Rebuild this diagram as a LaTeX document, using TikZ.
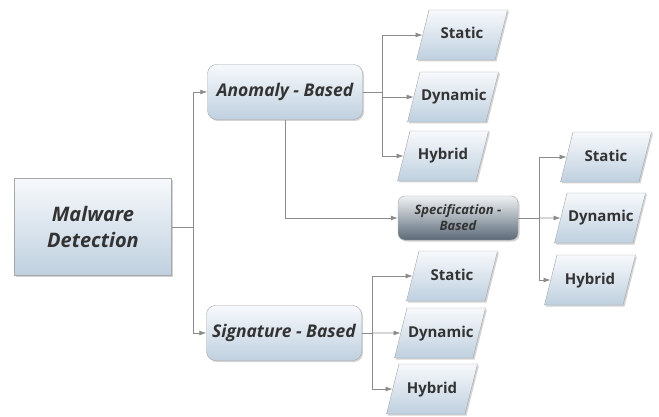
\documentclass[tikz,border=0pt]{standalone}
\usepackage{fontspec}
\setmainfont{Open Sans}
\usetikzlibrary{shapes.geometric,shadows,arrows.meta}
\definecolor{boxtop}{HTML}{F7F9FC}
\definecolor{boxbot}{HTML}{BFD0DF}
\definecolor{spectop}{HTML}{EEF1F3}
\definecolor{specbot}{HTML}{5B6977}
\definecolor{edgecol}{HTML}{A7A7A7}
\definecolor{ink}{HTML}{333333}
\definecolor{wirecol}{HTML}{8C8C8C}

\begin{document}
\begin{tikzpicture}[x=1pt,y=-1pt,
  base/.style={draw=edgecol, top color=boxtop, bottom color=boxbot, text=ink,
    drop shadow={opacity=.35, shadow xshift=1.5pt, shadow yshift=-1.5pt}},
  root/.style={base, minimum width=157pt, minimum height=97pt, align=center,
    font=\fontsize{20}{26}\selectfont\bfseries\itshape},
  branch/.style={base, rounded corners=9pt, minimum width=155pt, minimum height=55pt,
    font=\fontsize{17.5}{20}\selectfont\bfseries\itshape},
  spec/.style={base, top color=spectop, bottom color=specbot, rounded corners=7pt,
    minimum width=120pt, minimum height=44pt, align=center,
    font=\fontsize{13}{16}\selectfont\bfseries\itshape},
  leaf/.style={base, trapezium, trapezium left angle=76, trapezium right angle=104,
    text width=64pt, align=center, text height=11pt, text depth=3pt,
    inner xsep=1pt, inner ysep=18pt, font=\fontsize{15}{18}\selectfont\bfseries},
  wire/.style={draw=wirecol, line width=.8pt},
  feed/.style={wire, -{Latex[length=7pt,width=5pt]}}]
\useasboundingbox (0,0) rectangle (659,417);

\node[root]   (md) at (93,227)  {Malware\\Detection};
\node[branch] (ab) at (285,92)  {Anomaly - Based};
\node[branch] (sb) at (284,333) {Signature - Based};
\node[spec]   (sp) at (458,218) {Specification -\\Based};

\node[leaf] (as) at (462,35)  {Static};
\node[leaf] (ad) at (453,97)  {Dynamic};
\node[leaf] (ah) at (443,156) {Hybrid};
\node[leaf] (ps) at (606,157) {Static};
\node[leaf] (pd) at (600,218) {Dynamic};
\node[leaf] (ph) at (590,280) {Hybrid};
\node[leaf] (ss) at (452,276) {Static};
\node[leaf] (sd) at (440,333) {Dynamic};
\node[leaf] (sh) at (432,389) {Hybrid};

\coordinate (j1) at (193,227);
\coordinate (j2) at (382,92);
\coordinate (j3) at (539,218);
\coordinate (j4) at (372,333);

\draw[feed] (md.east) -- (j1) |- (ab.west);
\draw[feed] (j1) |- (sb.west);

\draw[wire] (ab.east) -- (j2);
\draw[feed] (j2) |- (as.west);
\draw[feed] (j2) |- (ad.west);
\draw[feed] (j2) |- (ah.west);
\draw[feed] (ab.south) |- (sp.west);

\draw[wire] (sp.east) -- (j3);
\draw[feed] (j3) |- (ps.west);
\draw[feed] (j3) -- (pd.west);
\draw[feed] (j3) |- (ph.west);

\draw[wire] (sb.east) -- (j4);
\draw[feed] (j4) |- (ss.west);
\draw[feed] (j4) -- (sd.west);
\draw[feed] (j4) |- (sh.west);
\end{tikzpicture}
\end{document}
